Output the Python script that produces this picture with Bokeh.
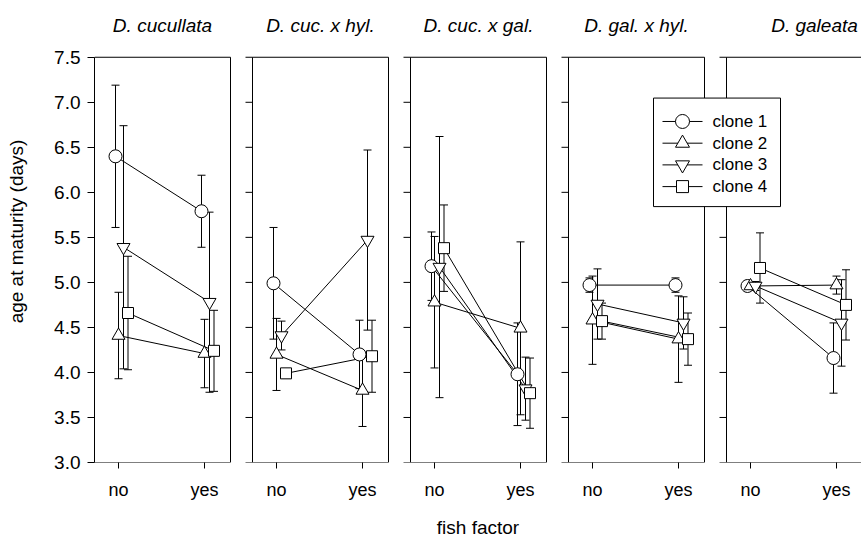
from bokeh.plotting import figure
from bokeh.models import (Range1d, FixedTicker, NumeralTickFormatter, Label, BoxAnnotation)
from bokeh.core.properties import value
from bokeh.embed import file_html
from bokeh.resources import INLINE

# ---------------- data ----------------
panels = ["D. cucullata", "D. cuc. x hyl.", "D. cuc. x gal.", "D. gal. x hyl.", "D. galeata"]
fish = ["no", "yes"]
clones = ["clone 1", "clone 2", "clone 3", "clone 4"]
y_ticks = [3.0, 3.5, 4.0, 4.5, 5.0, 5.5, 6.0, 6.5, 7.0, 7.5]

# mean age at maturity (days) per panel: [no fish, fish]
clone1_mean = [[6.40, 5.79], [4.99, 4.20], [5.18, 3.98], [4.97, 4.97], [4.96, 4.16]]
clone2_mean = [[4.41, 4.21], [4.20, 3.80], [4.78, 4.49], [4.58, 4.37], [4.96, 4.97]]
clone3_mean = [[5.39, 4.78], [4.41, 5.47], [5.17, 3.82], [4.76, 4.55], [4.96, 4.55]]
clone4_mean = [[4.66, 4.24], [3.99, 4.18], [5.38, 3.77], [4.57, 4.37], [5.16, 4.75]]
# error bar half-widths
clone1_err = [[0.79, 0.40], [0.62, 0.38], [0.38, 0.57], [0.08, 0.08], [0.05, 0.39]]
clone2_err = [[0.48, 0.38], [0.40, 0.40], [0.73, 0.96], [0.49, 0.48], [0.05, 0.10]]
clone3_err = [[1.35, 1.00], [0.16, 1.00], [1.45, 0.35], [0.39, 0.29], [0.05, 0.48]]
clone4_err = [[0.63, 0.45], [0.05, 0.40], [0.48, 0.39], [0.20, 0.29], [0.39, 0.39]]

means = [clone1_mean, clone2_mean, clone3_mean, clone4_mean]
errs = [clone1_err, clone2_err, clone3_err, clone4_err]

# ---------------- layout / style ----------------
FONT = "Liberation Sans"
W, H = 861, 540
BORDER_L, BORDER_B = 94, 76
FRAME_TOP_PX = 57                     # pixel row of y = 7.5
STEP = 158                            # panel pitch (x units = px)
PANEL_W = 136
TICK_POS = [24, 110]
CLONE_DX = [-3, 0, 5, 9.5]
MARKERS = ["circle", "triangle", "inverted_triangle", "square"]
SIZES = [13, 13, 13, 11]
TITLE_DX = [0, 0, 0, 0, 20]
TITLE_PX = 25

y_lo, y_hi = y_ticks[0], y_ticks[-1]
frame_h = H - BORDER_B
px_per_unit = (frame_h - FRAME_TOP_PX) / (y_hi - y_lo)
y_top = y_lo + frame_h / px_per_unit


def ypx(py):
    """canvas pixel row -> data y"""
    return y_lo + (frame_h - py) / px_per_unit


p = figure(width=W, height=H, output_backend="svg", toolbar_location=None,
           x_range=Range1d(0, W - BORDER_L), y_range=Range1d(y_lo, y_top),
           min_border_left=BORDER_L, min_border_right=0, min_border_top=0,
           min_border_bottom=BORDER_B)
p.outline_line_color = None
p.grid.visible = False
p.background_fill_color = "white"
p.border_fill_color = "white"

# x axis
xticks = [k * STEP + t for k in range(len(panels)) for t in TICK_POS]
p.xaxis.ticker = FixedTicker(ticks=xticks, minor_ticks=[])
p.xaxis.major_label_overrides = {k * STEP + TICK_POS[j]: fish[j]
                                 for k in range(len(panels)) for j in range(2)}
p.xaxis.axis_line_color = None
p.xaxis.major_tick_out = 6
p.xaxis.major_tick_in = 0
p.xaxis.major_tick_line_color = "black"
p.xaxis.major_label_standoff = 11
p.xaxis.major_label_text_font = FONT
p.xaxis.major_label_text_font_size = "18px"
p.xaxis.major_label_text_color = "black"
p.xaxis.axis_label = "fish factor"
p.xaxis.axis_label_text_font = FONT
p.xaxis.axis_label_text_font_style = "normal"
p.xaxis.axis_label_text_font_size = "19px"
p.xaxis.axis_label_text_color = "black"
p.xaxis.axis_label_standoff = 14

# y axis
p.yaxis.ticker = FixedTicker(ticks=y_ticks, minor_ticks=[])
p.yaxis.formatter = NumeralTickFormatter(format="0.0")
p.yaxis.bounds = (y_lo, y_hi)
p.yaxis.axis_line_color = "black"
p.yaxis.major_tick_out = 7
p.yaxis.major_tick_in = 0
p.yaxis.major_tick_line_color = "black"
p.yaxis.major_label_standoff = 7
p.yaxis.major_label_text_font = FONT
p.yaxis.major_label_text_font_size = "19px"
p.yaxis.major_label_text_color = "black"
p.yaxis.axis_label = "age at maturity (days)"
p.yaxis.axis_label_text_font = FONT
p.yaxis.axis_label_text_font_style = "normal"
p.yaxis.axis_label_text_font_size = "19px"
p.yaxis.axis_label_text_color = "black"
p.yaxis.axis_label_standoff = 24

# panel frames, titles and left ticks of inner panels
for k, name in enumerate(panels):
    left = k * STEP
    p.add_layout(BoxAnnotation(left=left, right=left + PANEL_W, bottom=y_lo, top=y_hi,
                               fill_alpha=0, line_color="black", line_alpha=1, line_width=1))
    p.add_layout(Label(x=left + PANEL_W / 2 + TITLE_DX[k], y=ypx(TITLE_PX), text=name,
                       text_font=FONT, text_font_style="italic", text_font_size="19px",
                       text_align="center", text_baseline="middle", text_color="black"))
    if k > 0:
        p.segment(x0=[left - 7] * len(y_ticks), x1=[left] * len(y_ticks),
                  y0=y_ticks, y1=y_ticks, line_color="black", line_width=1)

# error bars
for c in range(len(clones)):
    bx, blo, bhi = [], [], []
    for k in range(len(panels)):
        for j in range(2):
            bx.append(k * STEP + TICK_POS[j] + CLONE_DX[c])
            blo.append(means[c][k][j] - errs[c][k][j])
            bhi.append(means[c][k][j] + errs[c][k][j])
    p.segment(x0=bx, x1=bx, y0=blo, y1=bhi, line_color="black", line_width=1)
    p.scatter(x=bx + bx, y=blo + bhi, marker="dash", size=8, line_color="black", line_width=1)

# connecting lines
for c in range(len(clones)):
    xs = [[k * STEP + TICK_POS[j] + CLONE_DX[c] for j in range(2)] for k in range(len(panels))]
    ys = [list(means[c][k]) for k in range(len(panels))]
    p.multi_line(xs=xs, ys=ys, line_color="black", line_width=1)

# markers
for c in range(len(clones)):
    mx = [k * STEP + TICK_POS[j] + CLONE_DX[c] for k in range(len(panels)) for j in range(2)]
    my = [means[c][k][j] for k in range(len(panels)) for j in range(2)]
    p.scatter(x=mx, y=my, marker=MARKERS[c], size=SIZES[c],
              fill_color="white", line_color="black", line_width=1)

# legend (box over panels 4 and 5): white box at annotation level, entries on overlay level
LEG_L, LEG_R, LEG_T, LEG_B = 653, 780, 98, 207          # canvas px
LEG_ROW0, LEG_PITCH = 121.5, 21.8
LEG_LINE = (662, 702)
LEG_TEXT_X = 712
p.add_layout(BoxAnnotation(left=LEG_L - BORDER_L, right=LEG_R - BORDER_L,
                           top=ypx(LEG_T), bottom=ypx(LEG_B),
                           fill_color="white", fill_alpha=1, line_color="black",
                           line_alpha=1, line_width=1))
row_y = [ypx(LEG_ROW0 + i * LEG_PITCH) for i in range(len(clones))]
p.segment(x0=[LEG_LINE[0] - BORDER_L] * len(clones), x1=[LEG_LINE[1] - BORDER_L] * len(clones),
          y0=row_y, y1=row_y, line_color="black", line_width=1, level="overlay")
for c in range(len(clones)):
    p.scatter(x=[(LEG_LINE[0] + LEG_LINE[1]) / 2 - BORDER_L], y=[row_y[c]], marker=MARKERS[c],
              size=SIZES[c] + 1, fill_color="white", line_color="black", line_width=1,
              level="overlay")
p.text(x=[LEG_TEXT_X - BORDER_L] * len(clones), y=row_y, text=clones,
       text_font=value(FONT), text_font_size="17px", text_baseline="middle",
       text_align="left", text_color="black", level="overlay")

open("out.html", "w").write(file_html(p, INLINE))
